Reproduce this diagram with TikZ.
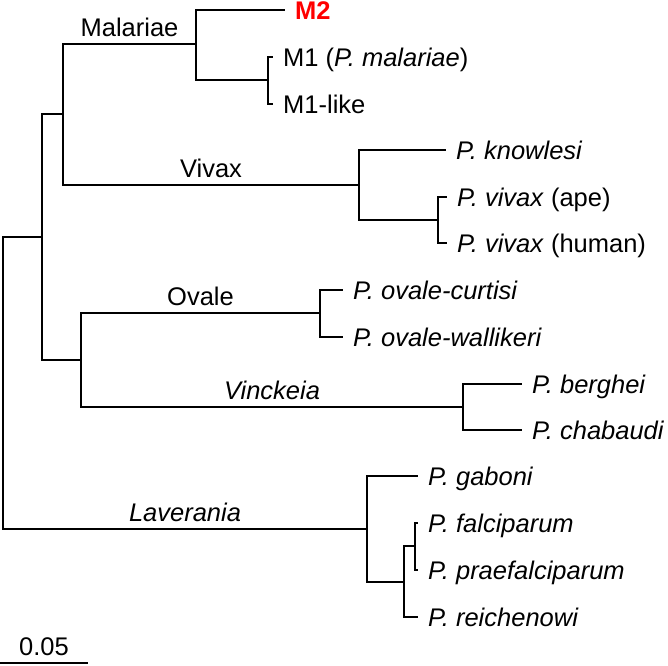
\documentclass[tikz,border=0pt]{standalone}
\usepackage{fontspec}
\setmainfont{Liberation Sans}
\usepackage{xcolor}
\usetikzlibrary{positioning}

\begin{document}
\begin{tikzpicture}[
    x=1pt, y=-1pt,
    font=\fontsize{25.5}{30}\selectfont,
    branch/.style={line width=2.8pt},
    leaf/.style={anchor=west, inner xsep=10pt, inner ysep=0pt, text height=18pt, text depth=0pt},
    clade/.style={anchor=base, yshift=8pt, inner sep=0pt}
]
    \useasboundingbox (0,0) rectangle (668,665);

    % internal nodes
    \coordinate (root) at (3,383);
    \coordinate (n1) at (42,237);
    \coordinate (mv) at (63,114);
    \coordinate (mal) at (196,44);
    \coordinate (m1) at (268,80);
    \coordinate (viv) at (359,185);
    \coordinate (vv) at (438,220);
    \coordinate (ov) at (81,360);
    \coordinate (ovl) at (320,313);
    \coordinate (vin) at (463,407);
    \coordinate (lav) at (367,529);
    \coordinate (fr) at (404,582);
    \coordinate (fp) at (415,546);

    % leaves
    \node[leaf] (m2) at (285,10) {\textcolor{red}{\bfseries M2}};
    \node[leaf] (m1a) at (273,57) {M1 (\textit{P. malariae})};
    \node[leaf] (m1b) at (273,104) {M1-like};
    \node[leaf] (pk) at (446,150) {\textit{P. knowlesi}};
    \node[leaf] (pva) at (447,197) {\textit{P. vivax} (ape)};
    \node[leaf] (pvh) at (447,243) {\textit{P. vivax} (human)};
    \node[leaf] (poc) at (343,290) {\textit{P. ovale-curtisi}};
    \node[leaf] (pow) at (343,337) {\textit{P. ovale-wallikeri}};
    \node[leaf] (pb) at (522,384) {\textit{P. berghei}};
    \node[leaf] (pc) at (522,430) {\textit{P. chabaudi}};
    \node[leaf] (pg) at (418,476) {\textit{P. gaboni}};
    \node[leaf] (pf) at (418,523) {\textit{P. falciparum}};
    \node[leaf] (pp) at (418,570) {\textit{P. praefalciparum}};
    \node[leaf] (pr) at (418,617) {\textit{P. reichenowi}};

    \draw[branch] (root) |- (n1);
    \draw[branch] (root) |- node[clade, pos=0.75] (llav) {\textit{Laverania}} (lav);
    \draw[branch] (n1) |- (mv);
    \draw[branch] (n1) |- (ov);
    \draw[branch] (mv) |- node[clade, pos=0.75] (lmal) {Malariae} (mal);
    \draw[branch] (mv) |- node[clade, pos=0.75] (lviv) {Vivax} (viv);
    \draw[branch] (mal) |- (m2.west);
    \draw[branch] (mal) |- (m1);
    \draw[branch] (m1) |- (m1a.west);
    \draw[branch] (m1) |- (m1b.west);
    \draw[branch] (viv) |- (pk.west);
    \draw[branch] (viv) |- (vv);
    \draw[branch] (vv) |- (pva.west);
    \draw[branch] (vv) |- (pvh.west);
    \draw[branch] (ov) |- node[clade, pos=0.75] (lova) {Ovale} (ovl);
    \draw[branch] (ov) |- node[clade, pos=0.75] (lvin) {\textit{Vinckeia}} (vin);
    \draw[branch] (ovl) |- (poc.west);
    \draw[branch] (ovl) |- (pow.west);
    \draw[branch] (vin) |- (pb.west);
    \draw[branch] (vin) |- (pc.west);
    \draw[branch] (lav) |- (pg.west);
    \draw[branch] (lav) |- (fr);
    \draw[branch] (fr) |- (fp);
    \draw[branch] (fr) |- (pr.west);
    \draw[branch] (fp) |- (pf.west);
    \draw[branch] (fp) |- (pp.west);

    % scale bar
    \coordinate (s0) at (0,663);
    \coordinate (s1) at (88,663);
    \draw[branch] (s0) -- node[clade] (lsc) {0.05} (s1);
\end{tikzpicture}
\end{document}
